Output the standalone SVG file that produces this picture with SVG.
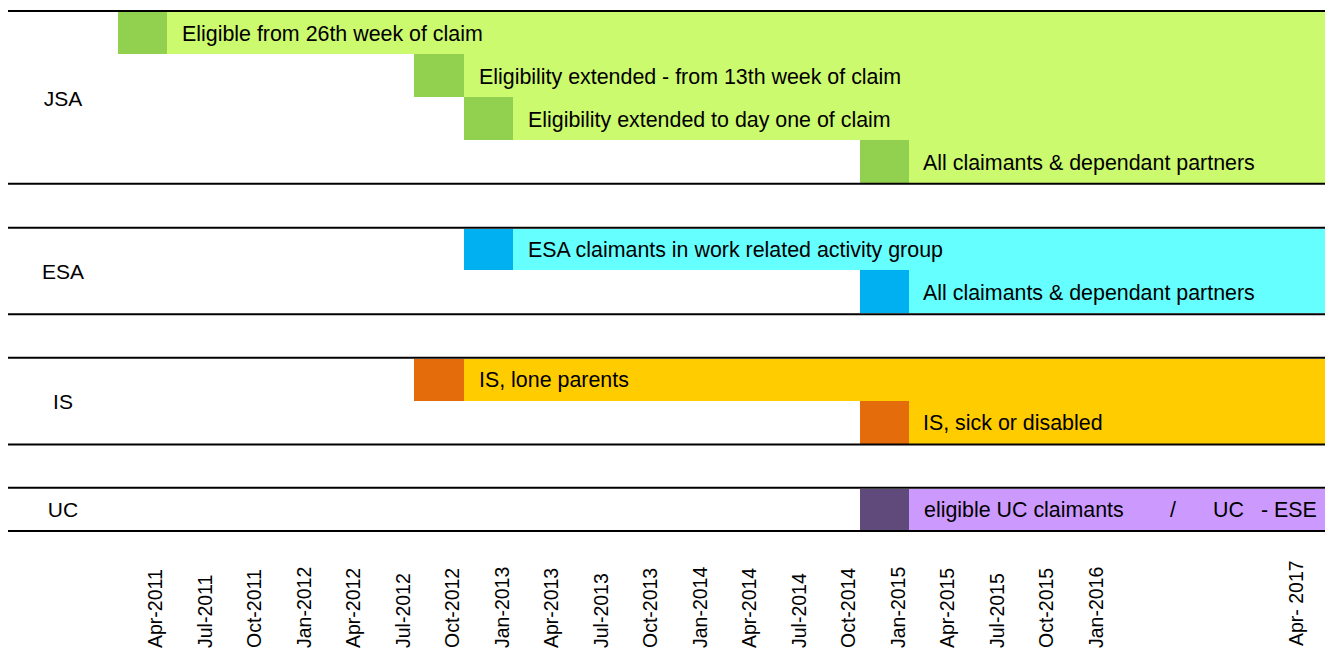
<svg xmlns="http://www.w3.org/2000/svg" width="1325" height="651" viewBox="0 0 1325 651">
<style>
text{font-family:"Liberation Sans",Arial,sans-serif;fill:#000}
.t{font-size:21.4px}
.lab{font-size:21px;text-anchor:middle}
.ax{font-size:19.5px}
.sep{stroke:#000;stroke-width:2;fill:none}
.lg{fill:#CCFA6E}.dg{fill:#92D050}
.lc{fill:#66FFFF}.db{fill:#00B0F0}
.ly{fill:#FFCC00}.do{fill:#E46C0A}
.lp{fill:#CC99FF}.dp{fill:#604A7B}
</style>
<rect width="1325" height="651" fill="#fff"/>
<g id="jsa">
<rect class="lg" x="167" y="12" width="1158" height="42"/>
<rect class="dg" x="118" y="12" width="49" height="42"/>
<rect class="lg" x="464" y="54" width="861" height="43"/>
<rect class="dg" x="414" y="54" width="50" height="43"/>
<rect class="lg" x="513" y="97" width="812" height="43"/>
<rect class="dg" x="464" y="97" width="49" height="43"/>
<rect class="lg" x="909" y="140" width="416" height="43"/>
<rect class="dg" x="860" y="140" width="49" height="43"/>
<text class="lab" x="63" y="106">JSA</text>
<text class="t" x="182" y="40.5">Eligible from 26th week of claim</text>
<text class="t" x="479" y="84">Eligibility extended - from 13th week of claim</text>
<text class="t" x="528" y="126.5">Eligibility extended to day one of claim</text>
<text class="t" x="923" y="169.5">All claimants &amp; dependant partners</text>
</g>
<g id="esa">
<rect class="lc" x="513" y="229" width="812" height="41"/>
<rect class="db" x="464" y="229" width="49" height="41"/>
<rect class="lc" x="909" y="270" width="416" height="43"/>
<rect class="db" x="860" y="270" width="49" height="43"/>
<text class="lab" x="63" y="279">ESA</text>
<text class="t" x="528" y="256.5">ESA claimants in work related activity group</text>
<text class="t" x="923" y="300">All claimants &amp; dependant partners</text>
</g>
<g id="is">
<rect class="ly" x="464" y="359" width="861" height="42"/>
<rect class="do" x="414" y="359" width="50" height="42"/>
<rect class="ly" x="909" y="401" width="416" height="43"/>
<rect class="do" x="860" y="401" width="49" height="43"/>
<text class="lab" x="63" y="409">IS</text>
<text class="t" x="479" y="387">IS, lone parents</text>
<text class="t" x="923" y="430">IS, sick or disabled</text>
</g>
<g id="uc">
<rect class="lp" x="909" y="489" width="416" height="41"/>
<rect class="dp" x="860" y="489" width="49" height="41"/>
<text class="lab" x="63" y="517">UC</text>
<text class="t" x="924" y="516.5">eligible UC claimants</text>
<text class="t" x="1170" y="516.5">/</text>
<text class="t" x="1213" y="516.5">UC</text>
<text class="t" x="1261" y="516.5">- ESE</text>
</g>
<g id="connectors">
<line class="sep" x1="8" y1="11" x2="1325" y2="11"/>
<line class="sep" x1="8" y1="183.7" x2="1325" y2="183.7"/>
<line class="sep" x1="8" y1="227.7" x2="1325" y2="227.7"/>
<line class="sep" x1="8" y1="314.3" x2="1325" y2="314.3"/>
<line class="sep" x1="8" y1="357.7" x2="1325" y2="357.7"/>
<line class="sep" x1="8" y1="444.5" x2="1325" y2="444.5"/>
<line class="sep" x1="8" y1="487.7" x2="1325" y2="487.7"/>
<line class="sep" x1="8" y1="531" x2="1325" y2="531"/>
</g>
<g id="axis">
<text class="ax" transform="translate(162,648) rotate(-90)">Apr-2011</text>
<text class="ax" transform="translate(211.5,648) rotate(-90)">Jul-2011</text>
<text class="ax" transform="translate(261,648) rotate(-90)">Oct-2011</text>
<text class="ax" transform="translate(310.5,648) rotate(-90)">Jan-2012</text>
<text class="ax" transform="translate(360,648) rotate(-90)">Apr-2012</text>
<text class="ax" transform="translate(409.5,648) rotate(-90)">Jul-2012</text>
<text class="ax" transform="translate(459,648) rotate(-90)">Oct-2012</text>
<text class="ax" transform="translate(508.5,648) rotate(-90)">Jan-2013</text>
<text class="ax" transform="translate(558,648) rotate(-90)">Apr-2013</text>
<text class="ax" transform="translate(607.5,648) rotate(-90)">Jul-2013</text>
<text class="ax" transform="translate(657,648) rotate(-90)">Oct-2013</text>
<text class="ax" transform="translate(706.5,648) rotate(-90)">Jan-2014</text>
<text class="ax" transform="translate(756,648) rotate(-90)">Apr-2014</text>
<text class="ax" transform="translate(805.5,648) rotate(-90)">Jul-2014</text>
<text class="ax" transform="translate(855,648) rotate(-90)">Oct-2014</text>
<text class="ax" transform="translate(904.5,648) rotate(-90)">Jan-2015</text>
<text class="ax" transform="translate(954,648) rotate(-90)">Apr-2015</text>
<text class="ax" transform="translate(1003.5,648) rotate(-90)">Jul-2015</text>
<text class="ax" transform="translate(1053,648) rotate(-90)">Oct-2015</text>
<text class="ax" transform="translate(1102.5,648) rotate(-90)">Jan-2016</text>
<text class="ax" transform="translate(1303,646) rotate(-90)">Apr- 2017</text>
</g>
</svg>
